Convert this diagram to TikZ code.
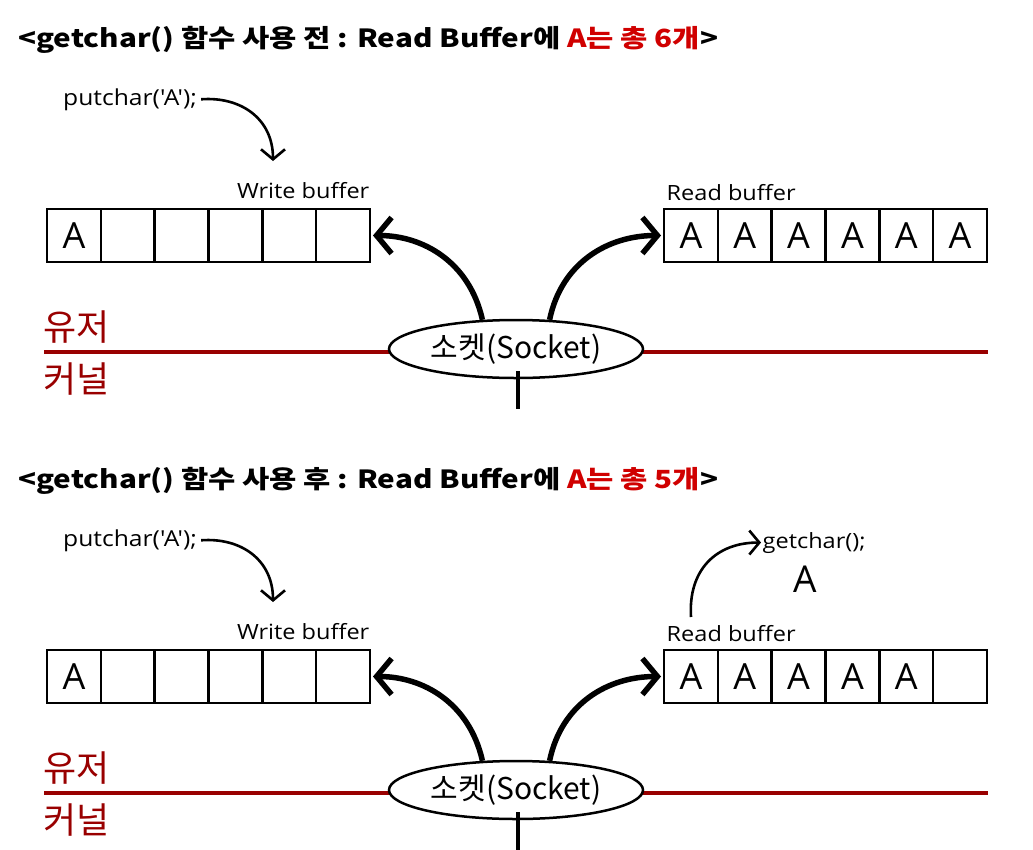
\documentclass[tikz,border=0pt]{standalone}
\usepackage{fontspec}
\setmainfont{Open Sans}
\newfontfamily\kr{Noto Sans CJK KR}
\newfontfamily\krwide{Noto Sans CJK KR}[FakeStretch=1.185]
\newfontfamily\lblfont{Open Sans}[FakeStretch=1.12]
\usetikzlibrary{arrows.meta,shapes.geometric}
\definecolor{linered}{HTML}{990000}
\definecolor{titlered}{HTML}{D00000}
\tikzset{
  cell/.style={draw, line width=2.5pt, minimum width=53.83pt, minimum height=53pt,
    inner sep=0pt, outer sep=0pt, font=\fontsize{36}{36}\selectfont},
  bigarrow/.style={line width=5.5pt, -{Straight Barb[length=15pt,width=36pt]}},
  smallarrow/.style={line width=2.6pt, -{Straight Barb[length=10pt,width=24pt]}},
  lbl/.style={inner sep=1.5pt, font=\lblfont\fontsize{21}{21}\selectfont},
  ttl/.style={inner sep=0pt, anchor=west, font=\krwide\bfseries\fontsize{25}{25}\selectfont},
  side/.style={inner sep=0pt, anchor=west, text=linered, font=\kr\fontsize{36}{36}\selectfont},
  sockshape/.style={ellipse, draw, fill=white, line width=2.5pt, minimum width=254pt,
    minimum height=58pt, inner sep=0pt, font=\kr\fontsize{30}{30}\selectfont},
  redline/.style={draw=linered, line width=4pt},
  stem/.style={line width=4.5pt}
}
\newcommand\drawpanel[5]{%
\begin{scope}[yshift=-#2pt, name prefix=#1]
  \node[ttl] (title) at (18,40) {<getchar() 함수 사용 #3 : Read Buffer에 \textcolor{titlered}{A는 총 #4개}>};
  \node[lbl, anchor=base west, font=\lblfont\fontsize{22}{22}\selectfont, inner xsep=4pt] (put) at (59,105) {putchar('A');};
  \coordinate (wtip) at (273,161);
  \draw[smallarrow] (put.east) .. controls +(40,-3) and +(0,-42) .. (wtip);
  \node[lbl, anchor=base east] (wlabel) at (371,198) {Write buffer};
  \node[lbl, anchor=base west] (rlabel) at (665,200) {Read buffer};
  \foreach \i in {1,...,6} {
    \node[cell] (w\i) at ({47+(\i-0.5)*53.833},235.5) {\ifnum\i=1 A\fi};
    \node[cell] (r\i) at ({664+(\i-0.5)*53.833},235.5) {\ifnum\i<6 A\else #5\fi};
  }
  \coordinate (ul) at (44,352);
  \coordinate (ur) at (988,352);
  \draw[redline] (ul) -- (ur);
  \node[side] (user) at (43,327) {유저};
  \node[side] (kernel) at (43,379) {커널};
  \node[sockshape] (sock) at (516,349) {소켓(Socket)};
  \coordinate (stemend) at (518,409);
  \draw[stem] ([xshift=2pt,yshift=8pt]sock.south) -- (stemend);
  \draw[bigarrow] (sock.139) .. controls +(-13,-58) and +(50,0) .. ([xshift=3pt]w6.east);
  \draw[bigarrow] (sock.41) .. controls +(12,-58) and +(-52,0) .. ([xshift=-3pt]r1.west);
\end{scope}}
\begin{document}
\begin{tikzpicture}[x=1pt,y=-1pt]
\useasboundingbox (0,0) rectangle (1033,849);
\drawpanel{a-}{0}{전}{6}{A}
\drawpanel{b-}{441}{후}{5}{}
\node[lbl, anchor=base west] (get) at (761,548) {getchar();};
\node[inner sep=0pt, anchor=base, font=\fontsize{37}{37}\selectfont] (gota) at (805,592) {A};
\coordinate (gstart) at (691,617);
\draw[smallarrow] (gstart) .. controls +(-3,-47) and +(-45,0) .. (get.west);
\end{tikzpicture}
\end{document}
